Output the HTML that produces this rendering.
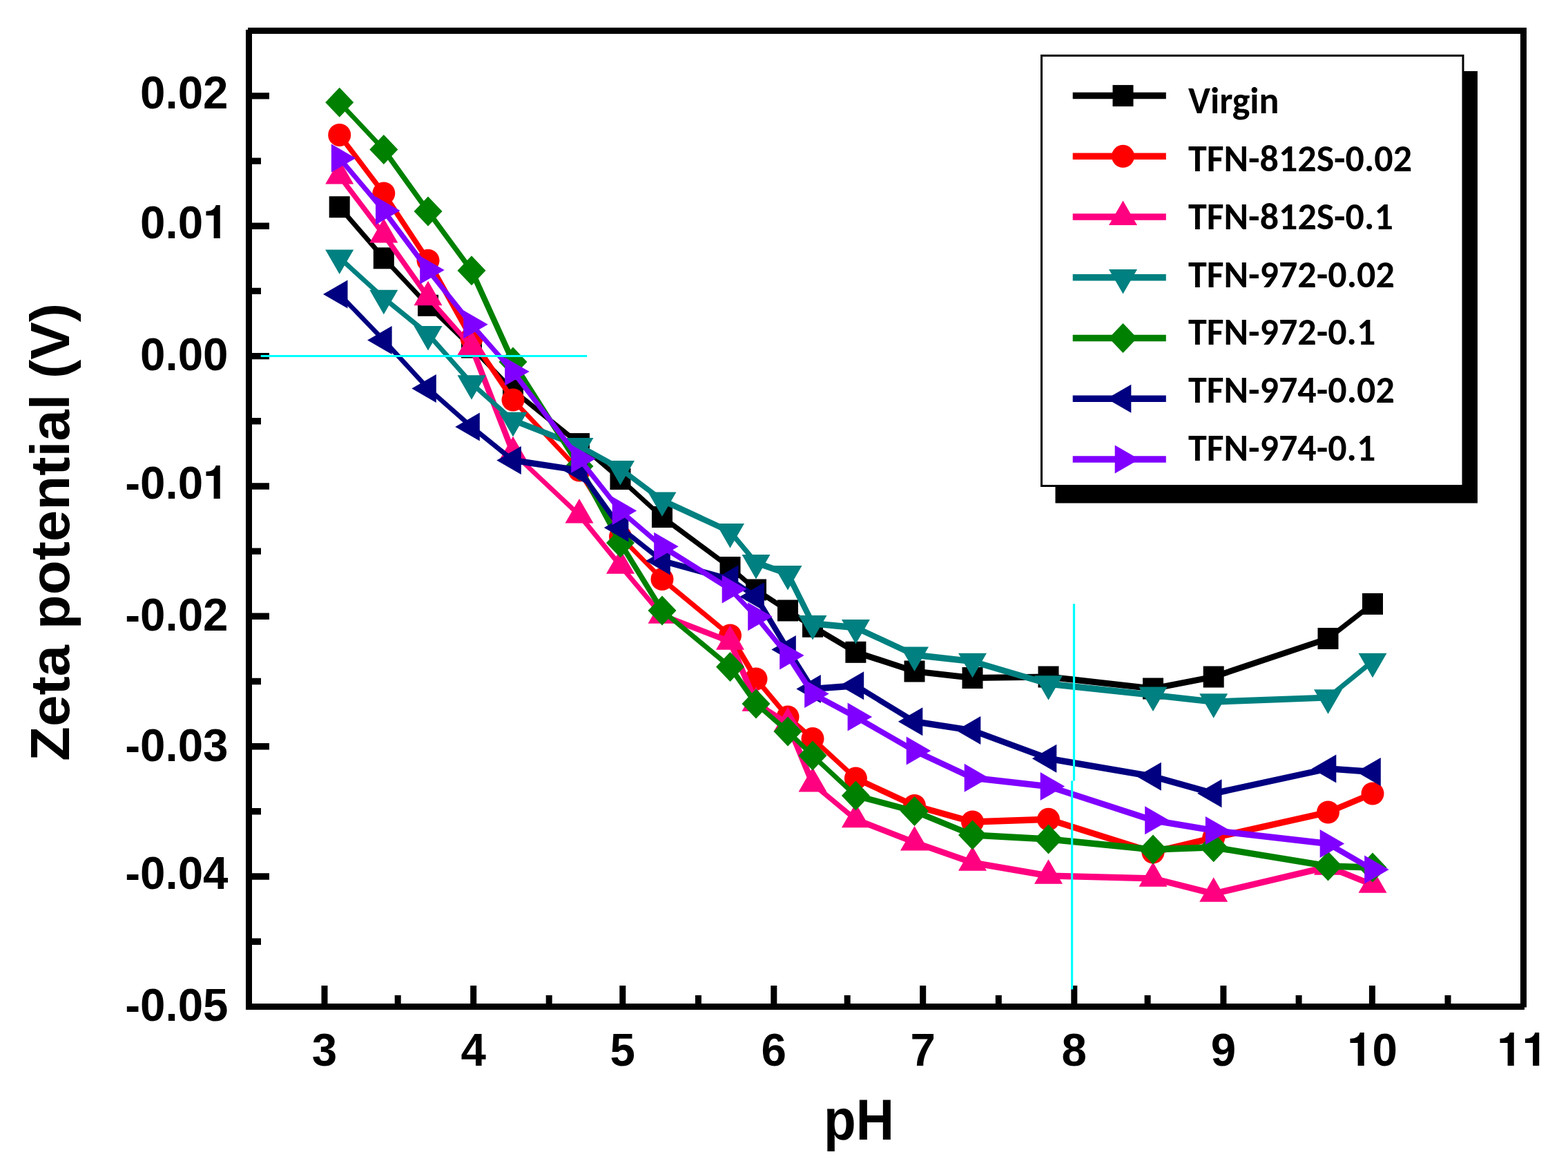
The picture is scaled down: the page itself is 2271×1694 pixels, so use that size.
<!DOCTYPE html>
<html><head><meta charset="utf-8"><title>Zeta potential vs pH</title>
<style>
html,body{margin:0;padding:0;background:#fff;}
body{width:2271px;height:1694px;overflow:hidden;}
svg{display:block;}
.tk{font-family:"Liberation Sans",Arial,sans-serif;font-weight:700;font-size:65.5px;fill:#000;}
.ti{font-family:"Liberation Sans",Arial,sans-serif;font-weight:700;fill:#000;}
.one{font-family:"TeX Gyre Heros","Liberation Sans",Arial,sans-serif;}
.lg{font-family:"Carlito","Liberation Sans",sans-serif;font-weight:700;font-size:54px;fill:#000;}
</style></head><body>
<svg width="2271" height="1694" viewBox="0 0 2271 1694">
<rect x="0" y="0" width="2271" height="1694" fill="#fff"/>
<path d="M487.1 299.7L551.1 373.8L560.4 373.8L496.3 299.7ZM551.1 373.8L615.4 442.3L624.6 442.3L560.4 373.8ZM620 437.7L683 498.4L683 507.6L620 446.9ZM678.4 503L738.4 565L747.6 565L687.6 503ZM743 560.4L839 638L839 647.2L743 569.6ZM839 638L898.5 688.9L898.5 698.1L839 647.2ZM898.5 688.9L959 743.9L959 753.1L898.5 698.1ZM959 743.9L1057.5 816.9L1057.5 826.1L959 753.1ZM1057.5 816.9L1095 849.4L1095 858.6L1057.5 826.1ZM1095 849.4L1141 879.4L1141 888.6L1095 858.6ZM1141 879.4L1177 902.6L1177 911.9L1141 888.6ZM1177 902.6L1239.4 939.6L1239.4 948.9L1177 911.9ZM1239.4 939.6L1324.5 967.4L1324.5 976.6L1239.4 948.9ZM1324.5 967.4L1408.5 976.9L1408.5 986.1L1324.5 976.6ZM1408.5 976.9L1518.5 975.4L1518.5 984.6L1408.5 986.1ZM1518.5 975.4L1670 992.4L1670 1001.6L1518.5 984.6ZM1670 992.4L1757.7 975.4L1757.7 984.6L1670 1001.6ZM1757.7 975.4L1923.5 919.9L1923.5 929.1L1757.7 984.6ZM1923.5 919.9L1988 869.8L1988 879L1923.5 929.1Z" fill="#000000"/>
<g><rect x="476.7" y="284.2" width="30" height="31" fill="#000000"/><rect x="540.8" y="358.3" width="30" height="31" fill="#000000"/><rect x="605" y="426.8" width="30" height="31" fill="#000000"/><rect x="668" y="487.5" width="30" height="31" fill="#000000"/><rect x="728" y="549.5" width="30" height="31" fill="#000000"/><rect x="824" y="627.1" width="30" height="31" fill="#000000"/><rect x="883.5" y="678" width="30" height="31" fill="#000000"/><rect x="944" y="733" width="30" height="31" fill="#000000"/><rect x="1042.5" y="806" width="30" height="31" fill="#000000"/><rect x="1080" y="838.5" width="30" height="31" fill="#000000"/><rect x="1126" y="868.5" width="30" height="31" fill="#000000"/><rect x="1162" y="891.8" width="30" height="31" fill="#000000"/><rect x="1224.4" y="928.8" width="30" height="31" fill="#000000"/><rect x="1309.5" y="956.5" width="30" height="31" fill="#000000"/><rect x="1393.5" y="966" width="30" height="31" fill="#000000"/><rect x="1503.5" y="964.5" width="30" height="31" fill="#000000"/><rect x="1655" y="981.5" width="30" height="31" fill="#000000"/><rect x="1742.7" y="964.5" width="30" height="31" fill="#000000"/><rect x="1908.5" y="909" width="30" height="31" fill="#000000"/><rect x="1973" y="858.9" width="30" height="31" fill="#000000"/></g>
<path d="M487.1 195.4L551.1 280L560.4 280L496.3 195.4ZM551.1 280L615.4 377.2L624.6 377.2L560.4 280ZM615.4 377.2L678.4 490L687.6 490L624.6 377.2ZM678.4 490L738.4 579L747.6 579L687.6 490ZM738.4 579L834.4 681L843.6 681L747.6 579ZM834.4 681L893.9 777L903.1 777L843.6 681ZM893.9 777L954.4 838.6L963.6 838.6L903.1 777ZM959 834L1057.5 915.4L1057.5 924.6L959 843.2ZM1052.8 920L1090.3 983L1099.7 983L1062.2 920ZM1090.3 983L1136.3 1038L1145.7 1038L1099.7 983ZM1141 1033.3L1177 1064.8L1177 1074.2L1141 1042.7ZM1177 1064.8L1239.4 1122.3L1239.4 1131.7L1177 1074.2ZM1239.4 1122.3L1324.5 1161.8L1324.5 1171.2L1239.4 1131.7ZM1324.5 1161.8L1408.5 1185.3L1408.5 1194.7L1324.5 1171.2ZM1408.5 1185.3L1518.5 1181.6L1518.5 1191L1408.5 1194.7ZM1518.5 1181.6L1670 1229.3L1670 1238.7L1518.5 1191ZM1670 1229.3L1757.7 1208.3L1757.7 1217.7L1670 1238.7ZM1757.7 1208.3L1923.5 1171.3L1923.5 1180.7L1757.7 1217.7ZM1923.5 1171.3L1988 1144.3L1988 1153.7L1923.5 1180.7Z" fill="#FF0000"/>
<g><circle cx="491.7" cy="195.4" r="16.5" fill="#FF0000"/><circle cx="555.8" cy="280" r="16.5" fill="#FF0000"/><circle cx="620" cy="377.2" r="16.5" fill="#FF0000"/><circle cx="683" cy="490" r="16.5" fill="#FF0000"/><circle cx="743" cy="579" r="16.5" fill="#FF0000"/><circle cx="839" cy="681" r="16.5" fill="#FF0000"/><circle cx="898.5" cy="777" r="16.5" fill="#FF0000"/><circle cx="959" cy="838.6" r="16.5" fill="#FF0000"/><circle cx="1057.5" cy="920" r="16.5" fill="#FF0000"/><circle cx="1095" cy="983" r="16.5" fill="#FF0000"/><circle cx="1141" cy="1038" r="16.5" fill="#FF0000"/><circle cx="1177" cy="1069.5" r="16.5" fill="#FF0000"/><circle cx="1239.4" cy="1127" r="16.5" fill="#FF0000"/><circle cx="1324.5" cy="1166.5" r="16.5" fill="#FF0000"/><circle cx="1408.5" cy="1190" r="16.5" fill="#FF0000"/><circle cx="1518.5" cy="1186.3" r="16.5" fill="#FF0000"/><circle cx="1670" cy="1234" r="16.5" fill="#FF0000"/><circle cx="1757.7" cy="1213" r="16.5" fill="#FF0000"/><circle cx="1923.5" cy="1176" r="16.5" fill="#FF0000"/><circle cx="1988" cy="1149" r="16.5" fill="#FF0000"/></g>
<path d="M487.1 254.8L551.1 339.6L560.4 339.6L496.3 254.8ZM551.1 339.6L615.4 430.5L624.6 430.5L560.4 339.6ZM615.4 430.5L678.4 502.1L687.6 502.1L624.6 430.5ZM678.4 502.1L738.4 655.5L747.6 655.5L687.6 502.1ZM743 650.9L839 741.1L839 750.4L743 660.1ZM834.4 745.8L893.9 819L903.1 819L843.6 745.8ZM893.9 819L954.4 891L963.6 891L903.1 819ZM959 886.4L1057.5 924.4L1057.5 933.6L959 895.6ZM1052.8 929L1090.3 1018L1099.7 1018L1062.2 929ZM1095 1013.4L1141 1042.8L1141 1052.1L1095 1022.6ZM1136.3 1047.4L1172.3 1134.8L1181.7 1134.8L1145.7 1047.4ZM1177 1130.1L1239.4 1181.8L1239.4 1191.2L1177 1139.5ZM1239.4 1181.8L1324.5 1214.9L1324.5 1224.2L1239.4 1191.2ZM1324.5 1214.9L1408.5 1244.3L1408.5 1253.7L1324.5 1224.2ZM1408.5 1244.3L1518.5 1263.3L1518.5 1272.7L1408.5 1253.7ZM1518.5 1263.3L1670 1267.2L1670 1276.6L1518.5 1272.7ZM1670 1267.2L1757.7 1289.3L1757.7 1298.7L1670 1276.6ZM1757.7 1289.3L1923.5 1250.3L1923.5 1259.7L1757.7 1298.7ZM1923.5 1250.3L1988 1276.3L1988 1285.7L1923.5 1259.7Z" fill="#FF0080"/>
<g><polygon points="491.7,231.1 512.2,266.6 471.2,266.6" fill="#FF0080"/><polygon points="555.8,315.9 576.3,351.4 535.3,351.4" fill="#FF0080"/><polygon points="620,406.8 640.5,442.3 599.5,442.3" fill="#FF0080"/><polygon points="683,478.4 703.5,513.9 662.5,513.9" fill="#FF0080"/><polygon points="743,631.8 763.5,667.3 722.5,667.3" fill="#FF0080"/><polygon points="839,722.1 859.5,757.6 818.5,757.6" fill="#FF0080"/><polygon points="898.5,795.3 919,830.8 878,830.8" fill="#FF0080"/><polygon points="959,867.3 979.5,902.8 938.5,902.8" fill="#FF0080"/><polygon points="1057.5,905.3 1078,940.8 1037,940.8" fill="#FF0080"/><polygon points="1095,994.3 1115.5,1029.8 1074.5,1029.8" fill="#FF0080"/><polygon points="1141,1023.7 1161.5,1059.2 1120.5,1059.2" fill="#FF0080"/><polygon points="1177,1111.1 1197.5,1146.6 1156.5,1146.6" fill="#FF0080"/><polygon points="1239.4,1162.8 1259.9,1198.3 1218.9,1198.3" fill="#FF0080"/><polygon points="1324.5,1195.9 1345,1231.4 1304,1231.4" fill="#FF0080"/><polygon points="1408.5,1225.3 1429,1260.8 1388,1260.8" fill="#FF0080"/><polygon points="1518.5,1244.3 1539,1279.8 1498,1279.8" fill="#FF0080"/><polygon points="1670,1248.2 1690.5,1283.7 1649.5,1283.7" fill="#FF0080"/><polygon points="1757.7,1270.3 1778.2,1305.8 1737.2,1305.8" fill="#FF0080"/><polygon points="1923.5,1231.3 1944,1266.8 1903,1266.8" fill="#FF0080"/><polygon points="1988,1257.3 2008.5,1292.8 1967.5,1292.8" fill="#FF0080"/></g>
<path d="M491.7 368.6L555.8 426.9L555.8 436.1L491.7 377.8ZM555.8 426.9L620 479.1L620 488.3L555.8 436.1ZM615.4 483.7L678.4 555.1L687.6 555.1L624.6 483.7ZM683 550.5L743 603.9L743 613.1L683 559.8ZM743 603.9L839 641.2L839 650.5L743 613.1ZM839 641.2L898.5 674.1L898.5 683.4L839 650.5ZM898.5 674.1L959 719.6L959 728.9L898.5 683.4ZM959 719.6L1057.5 765.1L1057.5 774.4L959 728.9ZM1052.8 769.8L1090.3 814.7L1099.7 814.7L1062.2 769.8ZM1095 810.1L1141 826.1L1141 835.4L1095 819.4ZM1136.3 830.8L1172.3 902.8L1181.7 902.8L1145.7 830.8ZM1177 898.1L1239.4 904.1L1239.4 913.4L1177 907.4ZM1239.4 904.1L1324.5 943.6L1324.5 952.9L1239.4 913.4ZM1324.5 943.6L1408.5 953L1408.5 962.2L1324.5 952.9ZM1408.5 953L1518.5 985.5L1518.5 994.8L1408.5 962.2ZM1518.5 985.5L1670 1001.8L1670 1011L1518.5 994.8ZM1670 1001.8L1757.7 1011.5L1757.7 1020.8L1670 1011ZM1757.7 1011.5L1923.5 1005.4L1923.5 1014.6L1757.7 1020.8ZM1923.5 1005.4L1988 953L1988 962.2L1923.5 1014.6Z" fill="#008080"/>
<g><polygon points="491.7,396.9 512.2,361.4 471.2,361.4" fill="#008080"/><polygon points="555.8,455.2 576.3,419.7 535.3,419.7" fill="#008080"/><polygon points="620,507.4 640.5,471.9 599.5,471.9" fill="#008080"/><polygon points="683,578.8 703.5,543.3 662.5,543.3" fill="#008080"/><polygon points="743,632.2 763.5,596.7 722.5,596.7" fill="#008080"/><polygon points="839,669.6 859.5,634.1 818.5,634.1" fill="#008080"/><polygon points="898.5,702.5 919,667 878,667" fill="#008080"/><polygon points="959,747.9 979.5,712.4 938.5,712.4" fill="#008080"/><polygon points="1057.5,793.5 1078,758 1037,758" fill="#008080"/><polygon points="1095,838.4 1115.5,802.9 1074.5,802.9" fill="#008080"/><polygon points="1141,854.5 1161.5,819 1120.5,819" fill="#008080"/><polygon points="1177,926.5 1197.5,891 1156.5,891" fill="#008080"/><polygon points="1239.4,932.5 1259.9,897 1218.9,897" fill="#008080"/><polygon points="1324.5,972 1345,936.5 1304,936.5" fill="#008080"/><polygon points="1408.5,981.3 1429,945.8 1388,945.8" fill="#008080"/><polygon points="1518.5,1013.8 1539,978.3 1498,978.3" fill="#008080"/><polygon points="1670,1030.1 1690.5,994.6 1649.5,994.6" fill="#008080"/><polygon points="1757.7,1039.8 1778.2,1004.3 1737.2,1004.3" fill="#008080"/><polygon points="1923.5,1033.7 1944,998.2 1903,998.2" fill="#008080"/><polygon points="1988,981.3 2008.5,945.8 1967.5,945.8" fill="#008080"/></g>
<path d="M487.1 148.3L551.1 216.6L560.4 216.6L496.3 148.3ZM551.1 216.6L615.4 306L624.6 306L560.4 216.6ZM615.4 306L678.4 391.8L687.6 391.8L624.6 306ZM678.4 391.8L738.4 524L747.6 524L687.6 391.8ZM738.4 524L834.4 675L843.6 675L747.6 524ZM834.4 675L893.9 786L903.1 786L843.6 675ZM893.9 786L954.4 884L963.6 884L903.1 786ZM959 879.4L1057.5 961L1057.5 970.2L959 888.6ZM1052.8 965.6L1090.3 1019L1099.7 1019L1062.2 965.6ZM1095 1014.4L1141 1054.3L1141 1063.7L1095 1023.6ZM1141 1054.3L1177 1089.3L1177 1098.7L1141 1063.7ZM1177 1089.3L1239.4 1147.3L1239.4 1156.7L1177 1098.7ZM1239.4 1147.3L1324.5 1169.9L1324.5 1179.2L1239.4 1156.7ZM1324.5 1169.9L1408.5 1204.3L1408.5 1213.7L1324.5 1179.2ZM1408.5 1204.3L1518.5 1210.3L1518.5 1219.7L1408.5 1213.7ZM1518.5 1210.3L1670 1225.3L1670 1234.7L1518.5 1219.7ZM1670 1225.3L1757.7 1222.1L1757.7 1231.5L1670 1234.7ZM1757.7 1222.1L1923.5 1249.3L1923.5 1258.7L1757.7 1231.5ZM1923.5 1249.3L1988 1251.3L1988 1260.7L1923.5 1258.7Z" fill="#008000"/>
<g><polygon points="491.7,126.8 512.2,148.3 491.7,169.8 471.2,148.3" fill="#008000"/><polygon points="555.8,195.1 576.3,216.6 555.8,238.1 535.3,216.6" fill="#008000"/><polygon points="620,284.5 640.5,306 620,327.5 599.5,306" fill="#008000"/><polygon points="683,370.3 703.5,391.8 683,413.3 662.5,391.8" fill="#008000"/><polygon points="743,502.5 763.5,524 743,545.5 722.5,524" fill="#008000"/><polygon points="839,653.5 859.5,675 839,696.5 818.5,675" fill="#008000"/><polygon points="898.5,764.5 919,786 898.5,807.5 878,786" fill="#008000"/><polygon points="959,862.5 979.5,884 959,905.5 938.5,884" fill="#008000"/><polygon points="1057.5,944.1 1078,965.6 1057.5,987.1 1037,965.6" fill="#008000"/><polygon points="1095,997.5 1115.5,1019 1095,1040.5 1074.5,1019" fill="#008000"/><polygon points="1141,1037.5 1161.5,1059 1141,1080.5 1120.5,1059" fill="#008000"/><polygon points="1177,1072.5 1197.5,1094 1177,1115.5 1156.5,1094" fill="#008000"/><polygon points="1239.4,1130.5 1259.9,1152 1239.4,1173.5 1218.9,1152" fill="#008000"/><polygon points="1324.5,1153.1 1345,1174.6 1324.5,1196.1 1304,1174.6" fill="#008000"/><polygon points="1408.5,1187.5 1429,1209 1408.5,1230.5 1388,1209" fill="#008000"/><polygon points="1518.5,1193.5 1539,1215 1518.5,1236.5 1498,1215" fill="#008000"/><polygon points="1670,1208.5 1690.5,1230 1670,1251.5 1649.5,1230" fill="#008000"/><polygon points="1757.7,1205.3 1778.2,1226.8 1757.7,1248.3 1737.2,1226.8" fill="#008000"/><polygon points="1923.5,1232.5 1944,1254 1923.5,1275.5 1903,1254" fill="#008000"/><polygon points="1988,1234.5 2008.5,1256 1988,1277.5 1967.5,1256" fill="#008000"/></g>
<path d="M487.1 426.1L551.1 492.6L560.4 492.6L496.3 426.1ZM551.1 492.6L615.4 562.5L624.6 562.5L560.4 492.6ZM620 557.9L683 613.4L683 622.6L620 567.1ZM683 613.4L743 661.9L743 671.1L683 622.6ZM743 661.9L839 676.4L839 685.6L743 671.1ZM834.4 681L893.9 764L903.1 764L843.6 681ZM898.5 759.4L959 807.4L959 816.6L898.5 768.6ZM959 807.4L1057.5 834.4L1057.5 843.6L959 816.6ZM1057.5 834.4L1095 859.4L1095 868.6L1057.5 843.6ZM1090.3 864L1136.3 940.4L1145.7 940.4L1099.7 864ZM1136.3 940.4L1172.3 997.4L1181.7 997.4L1145.7 940.4ZM1177 992.8L1239.4 988.1L1239.4 997.4L1177 1002ZM1239.4 988.1L1324.5 1040.1L1324.5 1049.5L1239.4 997.4ZM1324.5 1040.1L1408.5 1052.9L1408.5 1062.2L1324.5 1049.5ZM1408.5 1052.9L1518.5 1093.6L1518.5 1103L1408.5 1062.2ZM1518.5 1093.6L1670 1119.5L1670 1128.9L1518.5 1103ZM1670 1119.5L1757.7 1144.1L1757.7 1153.5L1670 1128.9ZM1757.7 1144.1L1923.5 1108.2L1923.5 1117.6L1757.7 1153.5ZM1923.5 1108.2L1988 1112.8L1988 1122.2L1923.5 1117.6Z" fill="#000080"/>
<g><polygon points="468,426.1 503.5,405.6 503.5,446.6" fill="#000080"/><polygon points="532.1,492.6 567.6,472.1 567.6,513.1" fill="#000080"/><polygon points="596.3,562.5 631.8,542 631.8,583" fill="#000080"/><polygon points="659.3,618 694.8,597.5 694.8,638.5" fill="#000080"/><polygon points="719.3,666.5 754.8,646 754.8,687" fill="#000080"/><polygon points="815.3,681 850.8,660.5 850.8,701.5" fill="#000080"/><polygon points="874.8,764 910.3,743.5 910.3,784.5" fill="#000080"/><polygon points="935.3,812 970.8,791.5 970.8,832.5" fill="#000080"/><polygon points="1033.8,839 1069.3,818.5 1069.3,859.5" fill="#000080"/><polygon points="1071.3,864 1106.8,843.5 1106.8,884.5" fill="#000080"/><polygon points="1117.3,940.4 1152.8,919.9 1152.8,960.9" fill="#000080"/><polygon points="1153.3,997.4 1188.8,976.9 1188.8,1017.9" fill="#000080"/><polygon points="1215.7,992.7 1251.2,972.2 1251.2,1013.2" fill="#000080"/><polygon points="1300.8,1044.8 1336.3,1024.3 1336.3,1065.3" fill="#000080"/><polygon points="1384.8,1057.6 1420.3,1037.1 1420.3,1078.1" fill="#000080"/><polygon points="1494.8,1098.3 1530.3,1077.8 1530.3,1118.8" fill="#000080"/><polygon points="1646.3,1124.2 1681.8,1103.7 1681.8,1144.7" fill="#000080"/><polygon points="1734,1148.8 1769.5,1128.3 1769.5,1169.3" fill="#000080"/><polygon points="1899.8,1112.9 1935.3,1092.4 1935.3,1133.4" fill="#000080"/><polygon points="1964.3,1117.5 1999.8,1097 1999.8,1138" fill="#000080"/></g>
<path d="M487.1 229L551.1 305L560.4 305L496.3 229ZM551.1 305L615.4 391L624.6 391L560.4 305ZM615.4 391L678.4 469.8L687.6 469.8L624.6 391ZM678.4 469.8L738.4 538L747.6 538L687.6 469.8ZM738.4 538L834.4 664.3L843.6 664.3L747.6 538ZM834.4 664.3L893.9 739.5L903.1 739.5L843.6 664.3ZM898.5 734.9L959 786.6L959 795.9L898.5 744.1ZM959 786.6L1057.5 848.4L1057.5 857.6L959 795.9ZM1052.8 853L1090.3 892.7L1099.7 892.7L1062.2 853ZM1090.3 892.7L1136.3 949L1145.7 949L1099.7 892.7ZM1136.3 949L1172.3 1004.6L1181.7 1004.6L1145.7 949ZM1177 1000L1239.4 1033.3L1239.4 1042.7L1177 1009.2ZM1239.4 1033.3L1324.5 1082.3L1324.5 1091.7L1239.4 1042.7ZM1324.5 1082.3L1408.5 1121.6L1408.5 1131L1324.5 1091.7ZM1408.5 1121.6L1518.5 1133.9L1518.5 1143.2L1408.5 1131ZM1518.5 1133.9L1670 1183L1670 1192.4L1518.5 1143.2ZM1670 1183L1757.7 1197.8L1757.7 1207.1L1670 1192.4ZM1757.7 1197.8L1923.5 1216.8L1923.5 1226.2L1757.7 1207.1ZM1923.5 1216.8L1988 1254.3L1988 1263.7L1923.5 1226.2Z" fill="#8000FF"/>
<g><polygon points="515.4,229 479.9,208.5 479.9,249.5" fill="#8000FF"/><polygon points="579.5,305 544,284.5 544,325.5" fill="#8000FF"/><polygon points="643.7,391 608.2,370.5 608.2,411.5" fill="#8000FF"/><polygon points="706.7,469.8 671.2,449.3 671.2,490.3" fill="#8000FF"/><polygon points="766.7,538 731.2,517.5 731.2,558.5" fill="#8000FF"/><polygon points="862.7,664.3 827.2,643.8 827.2,684.8" fill="#8000FF"/><polygon points="922.2,739.5 886.7,719 886.7,760" fill="#8000FF"/><polygon points="982.7,791.3 947.2,770.8 947.2,811.8" fill="#8000FF"/><polygon points="1081.2,853 1045.7,832.5 1045.7,873.5" fill="#8000FF"/><polygon points="1118.7,892.7 1083.2,872.2 1083.2,913.2" fill="#8000FF"/><polygon points="1164.7,949 1129.2,928.5 1129.2,969.5" fill="#8000FF"/><polygon points="1200.7,1004.6 1165.2,984.1 1165.2,1025.1" fill="#8000FF"/><polygon points="1263.1,1038 1227.6,1017.5 1227.6,1058.5" fill="#8000FF"/><polygon points="1348.2,1087 1312.7,1066.5 1312.7,1107.5" fill="#8000FF"/><polygon points="1432.2,1126.3 1396.7,1105.8 1396.7,1146.8" fill="#8000FF"/><polygon points="1542.2,1138.6 1506.7,1118.1 1506.7,1159.1" fill="#8000FF"/><polygon points="1693.7,1187.7 1658.2,1167.2 1658.2,1208.2" fill="#8000FF"/><polygon points="1781.4,1202.4 1745.9,1181.9 1745.9,1222.9" fill="#8000FF"/><polygon points="1947.2,1221.5 1911.7,1201 1911.7,1242" fill="#8000FF"/><polygon points="2011.7,1259 1976.2,1238.5 1976.2,1279.5" fill="#8000FF"/></g>
<rect x="360.5" y="44.5" width="1846" height="1413" fill="none" stroke="#000" stroke-width="9"/>
<path d="M356 40h3v3h-3zM2208 1458.5h3v3.5h-3z" fill="#fff"/>
<path d="M470 1453V1427M685.7 1453V1427M901.8 1453V1427M1120.8 1453V1427M1336.7 1453V1427M1555.8 1453V1427M1771.9 1453V1427M1987.4 1453V1427M576.2 1453V1441M795.2 1453V1441M1011.4 1453V1441M1227.2 1453V1441M1446.3 1453V1441M1662.1 1453V1441M1881.1 1453V1441M2097 1453V1441" stroke="#000" stroke-width="9" fill="none"/>
<path d="M365 138.9H390M365 327.2H390M365 515.6H390M365 704H390M365 892.3H390M365 1080.7H390M365 1269H390M365 233.1H378M365 421.4H378M365 609.8H378M365 798.1H378M365 986.5H378M365 1174.8H378M365 1363.2H378" stroke="#000" stroke-width="9.4" fill="none"/>
<path d="M377.7 515.5H850.2" stroke="#00FFFF" stroke-width="3.2" fill="none"/>
<path d="M1555.5 874.2V1130.5M1552.6 1130.5V1432.5" stroke="#00FFFF" stroke-width="3.2" fill="none"/>
<text class="tk" text-anchor="middle" transform="translate(470,1543) scale(1,1.03)">3</text>
<text class="tk" text-anchor="middle" transform="translate(685.7,1543) scale(1,1.03)">4</text>
<text class="tk" text-anchor="middle" transform="translate(901.8,1543) scale(1,1.03)">5</text>
<text class="tk" text-anchor="middle" transform="translate(1120.8,1543) scale(1,1.03)">6</text>
<text class="tk" text-anchor="middle" transform="translate(1336.7,1543) scale(1,1.03)">7</text>
<text class="tk" text-anchor="middle" transform="translate(1555.8,1543) scale(1,1.03)">8</text>
<text class="tk" text-anchor="middle" transform="translate(1771.9,1543) scale(1,1.03)">9</text>
<text class="tk" text-anchor="middle" transform="translate(1987.4,1543) scale(1,1.03)"><tspan class="one">1</tspan>0</text>
<text class="tk" text-anchor="middle" transform="translate(2204.5,1543) scale(1,1.03)"><tspan class="one">1</tspan><tspan class="one">1</tspan></text>
<text class="tk" text-anchor="end" transform="translate(330.5,157.1) scale(1,1.03)">0.02</text>
<text class="tk" text-anchor="end" transform="translate(330.5,345) scale(1,1.03)">0.0<tspan class="one">1</tspan></text>
<text class="tk" text-anchor="end" transform="translate(330.5,536.4) scale(1,1.03)">0.00</text>
<text class="tk" text-anchor="end" transform="translate(330.5,722.2) scale(1,1.03)">-0.0<tspan class="one">1</tspan></text>
<text class="tk" text-anchor="end" transform="translate(330.5,913.1) scale(1,1.03)">-0.02</text>
<text class="tk" text-anchor="end" transform="translate(330.5,1102) scale(1,1.03)">-0.03</text>
<text class="tk" text-anchor="end" transform="translate(330.5,1286.8) scale(1,1.03)">-0.04</text>
<text class="tk" text-anchor="end" transform="translate(330.5,1478) scale(1,1.03)">-0.05</text>
<text class="ti" font-size="80" transform="translate(99.5,1102) rotate(-90)" textLength="663" lengthAdjust="spacingAndGlyphs">Zeta potential (V)</text>
<text class="ti" font-size="80" transform="translate(1193,1650.3) scale(1,1.04)" textLength="102" lengthAdjust="spacingAndGlyphs">pH</text>
<rect x="1528.5" y="103" width="611.5" height="625.5" fill="#000"/>
<rect x="1508.5" y="80.5" width="610.5" height="623" fill="#fff" stroke="#000" stroke-width="3"/>
<path d="M1553.7 138.6H1688.8" stroke="#000000" stroke-width="9.5" fill="none"/>
<rect x="1611.5" y="123.1" width="30" height="31" fill="#000000"/>
<text class="lg" x="1721" y="163.8" textLength="131.6" lengthAdjust="spacingAndGlyphs">Virgin</text>
<path d="M1553.7 226.3H1688.8" stroke="#FF0000" stroke-width="9.5" fill="none"/>
<circle cx="1626.5" cy="226.3" r="16.5" fill="#FF0000"/>
<text class="lg" x="1721" y="247.7" textLength="324.1" lengthAdjust="spacingAndGlyphs">TFN-812S-0.02</text>
<path d="M1553.7 314.1H1688.8" stroke="#FF0080" stroke-width="9.5" fill="none"/>
<polygon points="1626.5,290.4 1647,325.9 1606,325.9" fill="#FF0080"/>
<text class="lg" x="1721" y="331.6" textLength="296.8" lengthAdjust="spacingAndGlyphs">TFN-812S-0.1</text>
<path d="M1553.7 401.8H1688.8" stroke="#008080" stroke-width="9.5" fill="none"/>
<polygon points="1626.5,425.5 1647,390 1606,390" fill="#008080"/>
<text class="lg" x="1721" y="415.5" textLength="298.8" lengthAdjust="spacingAndGlyphs">TFN-972-0.02</text>
<path d="M1553.7 489.5H1688.8" stroke="#008000" stroke-width="9.5" fill="none"/>
<polygon points="1626.5,468 1647,489.5 1626.5,511 1606,489.5" fill="#008000"/>
<text class="lg" x="1721" y="499.4" textLength="271.4" lengthAdjust="spacingAndGlyphs">TFN-972-0.1</text>
<path d="M1553.7 577.2H1688.8" stroke="#000080" stroke-width="9.5" fill="none"/>
<polygon points="1602.8,577.2 1638.3,556.8 1638.3,597.8" fill="#000080"/>
<text class="lg" x="1721" y="583.3" textLength="298.8" lengthAdjust="spacingAndGlyphs">TFN-974-0.02</text>
<path d="M1553.7 665H1688.8" stroke="#8000FF" stroke-width="9.5" fill="none"/>
<polygon points="1650.2,665 1614.7,644.5 1614.7,685.5" fill="#8000FF"/>
<text class="lg" x="1721" y="667.2" textLength="271.4" lengthAdjust="spacingAndGlyphs">TFN-974-0.1</text>
</svg>
</body></html>
